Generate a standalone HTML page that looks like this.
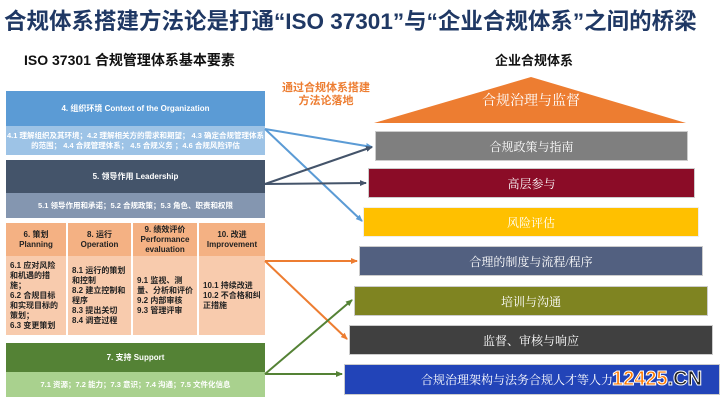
<!DOCTYPE html>
<html><head><meta charset="utf-8"><style>
body{margin:0;width:720px;height:401px;background:#fff;position:relative;overflow:hidden;font-family:"Liberation Sans","Noto Sans CJK SC",sans-serif}
div{position:absolute;box-sizing:border-box}
.c{display:flex;align-items:center;justify-content:center;text-align:center;color:#fff}
.bar{color:#fff;font-size:12px;display:flex;align-items:center;justify-content:center;border:1px solid #ccc;font-family:"Liberation Serif","Noto Serif CJK SC",serif}
.hd{background:#f4b183;color:#222;font-weight:bold;font-size:8px;line-height:10px;border-right:2px solid #fff}
.bd{background:#f8cbad;color:#222;font-weight:bold;font-size:8px;line-height:10px;padding:0 4px;border-right:2px solid #fff;align-items:center;display:flex}
</style></head><body>
<div style="left:4px;top:4px;font-size:22.5px;font-weight:bold;color:#1f3864;white-space:nowrap">合规体系搭建方法论是打通“ISO 37301”与“企业合规体系”之间的桥梁</div>
<div style="left:24px;top:50px;font-size:14px;font-weight:bold;color:#111">ISO 37301 合规管理体系基本要素</div>
<div style="left:495px;top:50px;font-size:13px;font-weight:bold;color:#111">企业合规体系</div>
<div style="left:276px;top:82px;width:100px;font-size:11px;font-weight:bold;color:#ed7d31;text-align:center;line-height:13px">通过合规体系搭建<br>方法论落地</div>

<div class="c" style="left:6px;top:91px;width:259px;height:35px;background:#5b9bd5;font-size:8px;font-weight:bold">4. 组织环境 Context of the Organization</div>
<div class="c" style="left:6px;top:126px;width:259px;height:29px;background:#9dc3e6;font-size:7.5px;font-weight:bold;line-height:10px">4.1 理解组织及其环境；4.2 理解相关方的需求和期望； 4.3 确定合规管理体系的范围； 4.4 合规管理体系； 4.5 合规义务 ；4.6 合规风险评估</div>
<div class="c" style="left:6px;top:160px;width:259px;height:33px;background:#44546a;font-size:8px;font-weight:bold">5. 领导作用 Leadership</div>
<div class="c" style="left:6px;top:193px;width:259px;height:25px;background:#8496b0;font-size:7.5px;font-weight:bold">5.1 领导作用和承诺；5.2 合规政策；5.3 角色、职责和权限</div>

<div class="c hd" style="left:6px;top:223px;width:62px;height:33px">6. 策划<br>Planning</div>
<div class="c hd" style="left:68px;top:223px;width:65px;height:33px">8. 运行<br>Operation</div>
<div class="c hd" style="left:133px;top:223px;width:66px;height:33px">9. 绩效评价<br>Performance<br>evaluation</div>
<div class="c hd" style="left:199px;top:223px;width:66px;height:33px;border:none">10. 改进<br>Improvement</div>
<div class="bd" style="left:6px;top:256px;width:62px;height:79px">6.1 应对风险和机遇的措施；<br>6.2 合规目标和实现目标的策划；<br>6.3 变更策划</div>
<div class="bd" style="left:68px;top:256px;width:65px;height:79px">8.1 运行的策划和控制<br>8.2 建立控制和程序<br>8.3 提出关切<br>8.4 调查过程</div>
<div class="bd" style="left:133px;top:256px;width:66px;height:79px">9.1 监视、测量、分析和评价<br>9.2 内部审核<br>9.3 管理评审</div>
<div class="bd" style="left:199px;top:256px;width:66px;height:79px;border:none">10.1 持续改进<br>10.2 不合格和纠正措施</div>

<div class="c" style="left:6px;top:343px;width:259px;height:29px;background:#548235;font-size:8px;font-weight:bold">7. 支持 Support</div>
<div class="c" style="left:6px;top:372px;width:259px;height:25px;background:#a9d18e;font-size:7.5px;font-weight:bold">7.1 资源；7.2 能力；7.3 意识；7.4 沟通；7.5 文件化信息</div>

<svg style="position:absolute;left:0;top:0" width="720" height="401">
<polygon points="531,77 374,123 686,123" fill="#ed7d31"/>
<text x="531" y="105" fill="#fff" font-size="14" text-anchor="middle" font-family="Liberation Serif,Noto Serif CJK SC,serif">合规治理与监督</text>
</svg>
<div class="bar" style="left:375px;top:131px;width:313px;height:30px;background:#7f7f7f">合规政策与指南</div>
<div class="bar" style="left:368px;top:168px;width:327px;height:30px;background:#8b0c27">高层参与</div>
<div class="bar" style="left:363px;top:207px;width:336px;height:30px;background:#ffc000;border-color:#eee">风险评估</div>
<div class="bar" style="left:359px;top:246px;width:344px;height:30px;background:#526080">合理的制度与流程/程序</div>
<div class="bar" style="left:354px;top:286px;width:354px;height:30px;background:#7f8421">培训与沟通</div>
<div class="bar" style="left:349px;top:325px;width:364px;height:30px;background:#404040">监督、审核与响应</div>
<div class="bar" style="left:344px;top:364px;width:376px;height:31px;background:#2244b8;justify-content:flex-start;padding-left:76px">合规治理架构与法务合规人才等人力</div>
<div style="left:612px;top:368px;font:bold 20px 'Liberation Sans',sans-serif;color:#ff7a00;-webkit-text-stroke:1px #fff">12425<span style="color:#222">.CN</span></div>

<svg style="position:absolute;left:0;top:0" width="720" height="401">
<defs>
<marker id="b" markerWidth="8" markerHeight="8" refX="6" refY="3" orient="auto" markerUnits="userSpaceOnUse"><path d="M0,0 L7,3 L0,6z" fill="#5b9bd5"/></marker>
<marker id="d" markerWidth="8" markerHeight="8" refX="6" refY="3" orient="auto" markerUnits="userSpaceOnUse"><path d="M0,0 L7,3 L0,6z" fill="#44546a"/></marker>
<marker id="o" markerWidth="8" markerHeight="8" refX="6" refY="3" orient="auto" markerUnits="userSpaceOnUse"><path d="M0,0 L7,3 L0,6z" fill="#ed7d31"/></marker>
<marker id="g" markerWidth="8" markerHeight="8" refX="6" refY="3" orient="auto" markerUnits="userSpaceOnUse"><path d="M0,0 L7,3 L0,6z" fill="#548235"/></marker>
</defs>
<g stroke-width="2" fill="none">
<line x1="265" y1="129" x2="372" y2="147" stroke="#5b9bd5" marker-end="url(#b)"/>
<line x1="265" y1="129" x2="362" y2="221" stroke="#5b9bd5" marker-end="url(#b)"/>
<line x1="265" y1="184" x2="372" y2="147" stroke="#44546a" marker-end="url(#d)"/>
<line x1="265" y1="184" x2="366" y2="183" stroke="#44546a" marker-end="url(#d)"/>
<line x1="265" y1="261" x2="357" y2="261" stroke="#ed7d31" marker-end="url(#o)"/>
<line x1="265" y1="261" x2="347" y2="339" stroke="#ed7d31" marker-end="url(#o)"/>
<line x1="265" y1="374" x2="352" y2="300" stroke="#548235" marker-end="url(#g)"/>
<line x1="265" y1="374" x2="342" y2="374" stroke="#548235" marker-end="url(#g)"/>
</g></svg>
</body></html>
